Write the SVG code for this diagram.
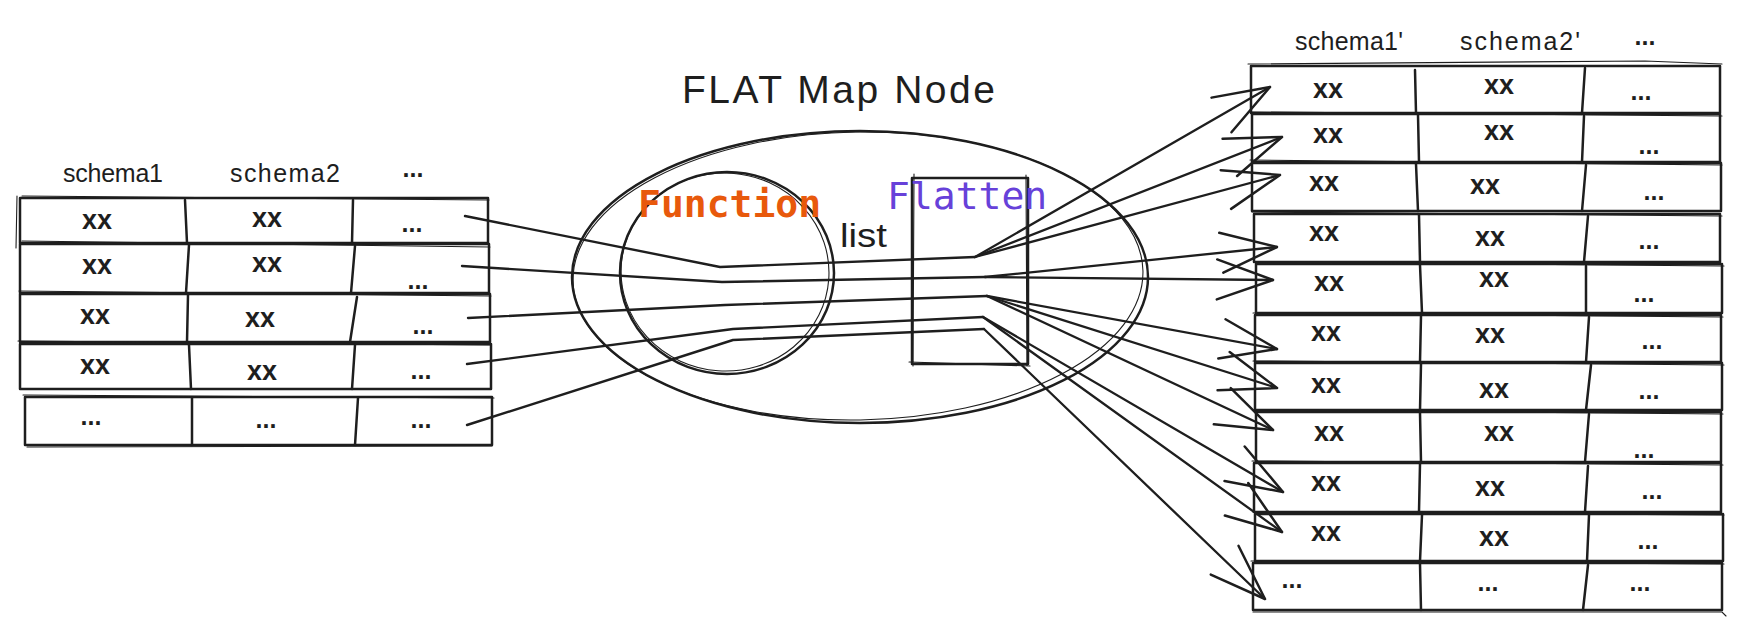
<svg xmlns="http://www.w3.org/2000/svg" width="1744" height="630" viewBox="0 0 1744 630">
<style>
.bg{fill:#ffffff}
.sk{fill:none;stroke:#1e1e1e;stroke-width:2.5;stroke-linejoin:round;stroke-linecap:round}
.sk2{fill:none;stroke:#1e1e1e;stroke-width:1.1;stroke-linecap:round}
.ln{fill:none;stroke:#1e1e1e;stroke-width:2.4;stroke-linecap:round;stroke-linejoin:round}
.ar{fill:none;stroke:#1e1e1e;stroke-width:2.3;stroke-linecap:round;marker-end:url(#ah)}
.t{font-family:"Liberation Sans",Arial,sans-serif;fill:#1e1e1e}
.xx{font-size:27px;font-weight:bold;text-anchor:middle}
.dots{font-size:25px;font-weight:bold;text-anchor:middle}
.hdr{font-size:25px}
.title{font-size:39px}
.list{font-size:34px}
.mono{font-family:"DejaVu Sans Mono","Liberation Mono",monospace;font-size:38px}
</style>
<defs>
<marker id="ah" markerUnits="userSpaceOnUse" viewBox="-70 -35 80 70" markerWidth="80" markerHeight="70" refX="0" refY="0" orient="auto" overflow="visible">
<path d="M-56,-20 L0,0 L-56,20" fill="none" stroke="#1e1e1e" stroke-width="2.5" stroke-linecap="round" stroke-linejoin="round"/>
</marker>
</defs>
<rect class="bg" x="0" y="0" width="1744" height="630"/>

<g id="title">
<text class="t title" x="682" y="103" textLength="313" lengthAdjust="spacing">FLAT Map Node</text>
</g>

<g id="flatmap-ellipse">
<ellipse class="sk" cx="860" cy="277" rx="288" ry="146"/>
<ellipse class="sk2" cx="858" cy="276" rx="285" ry="144" transform="rotate(-1 858 276)"/>
</g>

<g id="function-node">
<ellipse class="sk" cx="727" cy="273" rx="107" ry="101"/>
<ellipse class="sk2" cx="725" cy="272" rx="104" ry="99" transform="rotate(4 725 272)"/>
<text class="mono" x="638" y="217" fill="#e8590c" font-weight="bold">Function</text>
</g>

<g id="list-label">
<text class="t list" x="840" y="247" textLength="47" lengthAdjust="spacingAndGlyphs">list</text>
</g>

<g id="flatten-node">
<rect class="sk" x="912" y="178" width="116" height="186"/>
<path class="sk2" d="M914,174 L913,366 M1026,175 L1027,366 M909,362 L1030,366"/>
<text class="mono" x="887" y="209" fill="#6741d9">Flatten</text>
</g>

<g id="left-headers">
<text class="t hdr" x="63" y="182" textLength="100" lengthAdjust="spacing">schema1</text>
<text class="t hdr" x="230" y="182" textLength="110" lengthAdjust="spacing">schema2</text>
<text class="t dots" x="413" y="177">...</text>
</g>

<g id="left-row-1">
<rect class="sk" x="20" y="198" width="468" height="45"/>
<path class="sk" d="M185,200 L187,243 M353,200 L352,243"/>
<path class="sk2" d="M17,196 L16,248 M22,196 L489,200"/>
<text class="t xx" x="97" y="229">xx</text>
<text class="t xx" x="267" y="227">xx</text>
<text class="t dots" x="412" y="232">...</text>
</g>
<g id="left-row-2">
<rect class="sk" x="20" y="244" width="469" height="49"/>
<path class="sk" d="M189,245 L186,293 M355,246 L351,293"/>
<path class="sk2" d="M22,241 L490,247"/>
<text class="t xx" x="97" y="274">xx</text>
<text class="t xx" x="267" y="272">xx</text>
<text class="t dots" x="418" y="289">...</text>
</g>
<g id="left-row-3">
<rect class="sk" x="20" y="294" width="470" height="48"/>
<path class="sk" d="M188,295 L187,342 M357,297 L350,342"/>
<path class="sk2" d="M19,291 L491,296"/>
<text class="t xx" x="95" y="324">xx</text>
<text class="t xx" x="260" y="327">xx</text>
<text class="t dots" x="423" y="334">...</text>
</g>
<g id="left-row-4">
<rect class="sk" x="20" y="344" width="471" height="45"/>
<path class="sk" d="M189,345 L191,389 M355,345 L352,389"/>
<path class="sk2" d="M18,341 L490,345"/>
<text class="t xx" x="95" y="374">xx</text>
<text class="t xx" x="262" y="380">xx</text>
<text class="t dots" x="421" y="379">...</text>
</g>
<g id="left-row-5">
<rect class="sk" x="25" y="397" width="467" height="48"/>
<path class="sk" d="M192,398 L192,445 M358,398 L355,445"/>
<path class="sk2" d="M23,395 L494,398 M27,447 L492,446"/>
<text class="t dots" x="91" y="425">...</text>
<text class="t dots" x="266" y="428">...</text>
<text class="t dots" x="421" y="428">...</text>
</g>

<g id="right-headers">
<text class="t hdr" x="1295" y="50" textLength="108" lengthAdjust="spacing">schema1'</text>
<text class="t hdr" x="1460" y="50" textLength="120" lengthAdjust="spacing">schema2'</text>
<text class="t dots" x="1645" y="45">...</text>
</g>

<g id="right-row-1">
<rect class="sk" x="1251" y="66" width="469" height="47"/>
<path class="sk" d="M1415,70 L1416,113 M1585,68 L1582,113"/>
<path class="sk2" d="M1248,64 L1645,61 L1722,64"/>
<text class="t xx" x="1328" y="98">xx</text>
<text class="t xx" x="1499" y="94">xx</text>
<text class="t dots" x="1641" y="100">...</text>
</g>
<g id="right-row-2">
<rect class="sk" x="1252" y="114" width="468" height="48"/>
<path class="sk" d="M1418,115 L1419,162 M1584,116 L1582,162"/>
<path class="sk2" d="M1250,112 L1722,116"/>
<text class="t xx" x="1328" y="143">xx</text>
<text class="t xx" x="1499" y="140">xx</text>
<text class="t dots" x="1649" y="154">...</text>
</g>
<g id="right-row-3">
<rect class="sk" x="1252" y="163" width="469" height="48"/>
<path class="sk" d="M1416,164 L1418,211 M1586,165 L1582,211"/>
<path class="sk2" d="M1250,160 L1722,165"/>
<text class="t xx" x="1324" y="191">xx</text>
<text class="t xx" x="1485" y="194">xx</text>
<text class="t dots" x="1654" y="200">...</text>
</g>
<g id="right-row-4">
<rect class="sk" x="1254" y="214" width="466" height="48"/>
<path class="sk" d="M1419,215 L1420,262 M1588,216 L1584,262"/>
<path class="sk2" d="M1252,212 L1722,216"/>
<text class="t xx" x="1324" y="241">xx</text>
<text class="t xx" x="1490" y="246">xx</text>
<text class="t dots" x="1649" y="249">...</text>
</g>
<g id="right-row-5">
<rect class="sk" x="1256" y="264" width="466" height="49"/>
<path class="sk" d="M1420,265 L1422,313 M1586,266 L1586,313"/>
<path class="sk2" d="M1254,262 L1724,266"/>
<text class="t xx" x="1329" y="291">xx</text>
<text class="t xx" x="1494" y="287">xx</text>
<text class="t dots" x="1644" y="302">...</text>
</g>
<g id="right-row-6">
<rect class="sk" x="1255" y="315" width="466" height="47"/>
<path class="sk" d="M1421,316 L1420,362 M1589,317 L1586,362"/>
<path class="sk2" d="M1253,313 L1723,317"/>
<text class="t xx" x="1326" y="341">xx</text>
<text class="t xx" x="1490" y="343">xx</text>
<text class="t dots" x="1652" y="349">...</text>
</g>
<g id="right-row-7">
<rect class="sk" x="1255" y="363" width="467" height="47"/>
<path class="sk" d="M1421,364 L1420,410 M1591,365 L1586,410"/>
<path class="sk2" d="M1253,361 L1724,365"/>
<text class="t xx" x="1326" y="393">xx</text>
<text class="t xx" x="1494" y="398">xx</text>
<text class="t dots" x="1649" y="399">...</text>
</g>
<g id="right-row-8">
<rect class="sk" x="1256" y="412" width="465" height="50"/>
<path class="sk" d="M1420,413 L1421,462 M1589,414 L1585,462"/>
<path class="sk2" d="M1254,410 L1723,414"/>
<text class="t xx" x="1329" y="441">xx</text>
<text class="t xx" x="1499" y="441">xx</text>
<text class="t dots" x="1644" y="458">...</text>
</g>
<g id="right-row-9">
<rect class="sk" x="1254" y="463" width="467" height="49"/>
<path class="sk" d="M1420,464 L1419,512 M1588,466 L1585,512"/>
<path class="sk2" d="M1252,461 L1723,465"/>
<text class="t xx" x="1326" y="491">xx</text>
<text class="t xx" x="1490" y="496">xx</text>
<text class="t dots" x="1652" y="499">...</text>
</g>
<g id="right-row-10">
<rect class="sk" x="1255" y="514" width="468" height="47"/>
<path class="sk" d="M1422,515 L1420,561 M1589,515 L1587,561"/>
<path class="sk2" d="M1253,512 L1724,515"/>
<text class="t xx" x="1326" y="541">xx</text>
<text class="t xx" x="1494" y="546">xx</text>
<text class="t dots" x="1648" y="549">...</text>
</g>
<g id="right-row-11">
<rect class="sk" x="1253" y="563" width="469" height="47"/>
<path class="sk" d="M1420,564 L1421,610 M1588,565 L1583,610"/>
<path class="sk2" d="M1251,561 L1724,564 M1253,612 L1722,612 L1726,616"/>
<text class="t dots" x="1292" y="588">...</text>
<text class="t dots" x="1488" y="591">...</text>
<text class="t dots" x="1640" y="591">...</text>
</g>

<g id="connectors">
<path class="ln" d="M465,216 L720,267 L975,257"/>
<path class="ln" d="M462,266 L722,282 L985,277"/>
<path class="ln" d="M468,318 L725,305 L987,296"/>
<path class="ln" d="M467,364 L733,329 L983,317"/>
<path class="ln" d="M467,425 L733,340 L984,329"/>
<path class="ar" d="M975,257 L1270,87"/>
<path class="ar" d="M975,257 L1282,137"/>
<path class="ar" d="M975,257 L1280,175"/>
<path class="ar" d="M985,277 L1277,247"/>
<path class="ar" d="M985,277 L1273,280"/>
<path class="ar" d="M987,296 L1277,349"/>
<path class="ar" d="M987,296 L1277,388"/>
<path class="ar" d="M987,296 L1273,430"/>
<path class="ar" d="M983,317 L1283,492"/>
<path class="ar" d="M983,317 L1282,532"/>
<path class="ar" d="M984,329 L1265,599"/>
</g>
</svg>
